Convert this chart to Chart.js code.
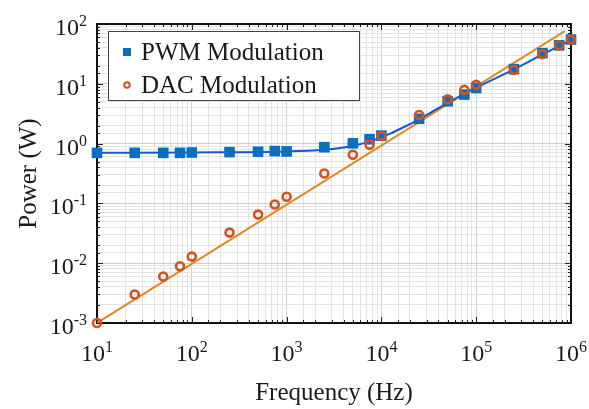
<!DOCTYPE html>
<html>
<head>
<meta charset="utf-8">
<script src="https://cdn.jsdelivr.net/npm/chart.js@4.4.1/dist/chart.umd.min.js"></script>
<style>
html, body { margin: 0; padding: 0; background: #fff; }
#wrap { width: 589px; height: 409px; }
</style>
</head>
<body>
<div id="wrap"><canvas id="chart" width="589" height="409"></canvas></div>
<script>
// measured points
const freqHz   = [10, 25, 50, 75, 100, 250, 500, 750, 1000, 2500, 5000, 7500, 10000, 25000, 50000, 75000, 100000, 250000, 500000, 750000, 1000000];
const pwmPower = [0.70, 0.70, 0.70, 0.70, 0.71, 0.72, 0.73, 0.75, 0.74, 0.87, 1.01, 1.18, 1.36, 2.6, 5.1, 6.6, 8.5, 17.6, 32.5, 44, 55];
const dacPower = [0.001, 0.003, 0.006, 0.0089, 0.0129, 0.0325, 0.065, 0.096, 0.129, 0.316, 0.65, 0.96, 1.34, 3.0, 5.5, 7.9, 9.6, 17, 31.4, 44, 55];

// fitted curves
const pwmFitFreq  = [10, 100, 1000, 2500, 4000, 6000, 8000, 12000, 18000, 25000, 50000, 100000, 250000, 500000, 1000000];
const pwmFitPower = [0.70, 0.71, 0.74, 0.79, 0.86, 0.98, 1.12, 1.44, 1.95, 2.55, 4.8, 8.6, 17.4, 31, 54];
const dacFitFreq  = [10, 860000];
const dacFitPower = [0.001, 76];

const xTickExp = [1, 2, 3, 4, 5, 6];
const yTickExp = [-3, -2, -1, 0, 1, 2];

const pwmColor = "#0b6fbf";
const dacColor = "#d4521c";
const pwmFitColor = "#1657d6";
const dacFitColor = "#e08a26";
const serif = '"Liberation Serif", "DejaVu Serif", serif';

const pts = (xs, ys) => xs.map((x, i) => ({ x: x, y: ys[i] }));
const isMajor = v => Math.abs(Math.log10(v) - Math.round(Math.log10(v))) < 1e-6;

function drawPow(ctx, exp, x, y, align) {
    ctx.font = "24px " + serif;
    const wb = ctx.measureText("10").width;
    ctx.font = "16px " + serif;
    const ws = ctx.measureText(String(exp)).width;
    const total = wb + ws;
    let left = align === "right" ? x - total : x - total / 2;
    ctx.textAlign = "left";
    ctx.textBaseline = "alphabetic";
    ctx.font = "24px " + serif;
    ctx.fillText("10", left, y);
    ctx.font = "16px " + serif;
    ctx.fillText(String(exp), left + wb, y - 9);
}

const decor = {
    id: "decor",
    beforeDatasetsDraw(chart) {
        const { ctx, chartArea: a, scales } = chart;
        ctx.save();
        // tick marks pointing in
        ctx.strokeStyle = "#222";
        ctx.lineWidth = 1;
        scales.x.ticks.forEach(t => {
            const px = Math.round(scales.x.getPixelForValue(t.value)) + 0.5;
            const len = isMajor(t.value) ? 6 : 3;
            ctx.beginPath();
            ctx.moveTo(px, a.bottom); ctx.lineTo(px, a.bottom - len);
            ctx.moveTo(px, a.top); ctx.lineTo(px, a.top + len);
            ctx.stroke();
        });
        scales.y.ticks.forEach(t => {
            const py = Math.round(scales.y.getPixelForValue(t.value)) + 0.5;
            const len = isMajor(t.value) ? 6 : 3;
            ctx.beginPath();
            ctx.moveTo(a.left, py); ctx.lineTo(a.left + len, py);
            ctx.moveTo(a.right, py); ctx.lineTo(a.right - len, py);
            ctx.stroke();
        });
        ctx.strokeStyle = "#111";
        ctx.lineWidth = 2;
        ctx.strokeRect(a.left, a.top, a.right - a.left, a.bottom - a.top);
        ctx.restore();
    },
    afterDraw(chart) {
        const { ctx, chartArea: a, scales } = chart;
        ctx.save();
        ctx.fillStyle = "#1a1a1a";
        xTickExp.forEach(e => drawPow(ctx, e, scales.x.getPixelForValue(Math.pow(10, e)), a.bottom + 38, "center"));
        yTickExp.forEach(e => drawPow(ctx, e, a.left - 10, scales.y.getPixelForValue(Math.pow(10, e)) + 11, "right"));

        // axis titles
        ctx.font = "25px " + serif;
        ctx.textAlign = "center";
        ctx.textBaseline = "alphabetic";
        ctx.fillText("Frequency (Hz)", (a.left + a.right) / 2, 400);
        ctx.save();
        ctx.translate(29, (a.top + a.bottom) / 2);
        ctx.rotate(-Math.PI / 2);
        ctx.textBaseline = "middle";
        ctx.fillText("Power (W)", 0, 0);
        ctx.restore();

        // legend box
        const lx = 108.5, ly = 31.5, lw = 251, lh = 69;
        ctx.fillStyle = "#fff";
        ctx.fillRect(lx, ly, lw, lh);
        ctx.strokeStyle = "#444";
        ctx.lineWidth = 1;
        ctx.strokeRect(lx, ly, lw, lh);
        ctx.fillStyle = pwmColor;
        ctx.fillRect(123, 48, 8, 8);
        ctx.strokeStyle = dacColor;
        ctx.lineWidth = 2;
        ctx.beginPath();
        ctx.arc(127, 85, 2.8, 0, Math.PI * 2);
        ctx.stroke();
        ctx.fillStyle = "#1a1a1a";
        ctx.font = "25px " + serif;
        ctx.textAlign = "left";
        ctx.textBaseline = "middle";
        ctx.fillText("PWM Modulation", 141, 53);
        ctx.fillText("DAC Modulation", 141, 86);
        ctx.restore();
    }
};

const gridColor = ctx => (ctx.tick && isMajor(ctx.tick.value)) ? "#cfcfcf" : "#e3e3e3";

new Chart(document.querySelector("#chart"), {
    type: "scatter",
    data: {
        datasets: [
            { label: "DAC Modulation", data: pts(freqHz, dacPower), order: 0, pointStyle: "circle", pointRadius: 4, pointBorderWidth: 2.6, borderColor: dacColor, backgroundColor: "rgba(0,0,0,0)", clip: false },
            { label: "PWM Modulation", data: pts(freqHz, pwmPower), order: 1, pointStyle: "rect", pointRadius: 7.5, borderWidth: 0, borderColor: pwmColor, backgroundColor: pwmColor, clip: false },
            { label: "PWM fit", data: pts(pwmFitFreq, pwmFitPower), order: 2, showLine: true, pointRadius: 0, borderColor: pwmFitColor, borderWidth: 2, cubicInterpolationMode: "monotone" },
            { label: "DAC fit", data: pts(dacFitFreq, dacFitPower), order: 3, showLine: true, pointRadius: 0, borderColor: dacFitColor, borderWidth: 2 }
        ]
    },
    options: {
        responsive: false,
        animation: false,
        layout: { padding: { left: 97, right: 18, top: 24, bottom: 86 } },
        plugins: { legend: { display: false }, tooltip: { enabled: false } },
        scales: {
            x: {
                type: "logarithmic", min: 10, max: 1000000,
                ticks: { display: false },
                grid: { color: gridColor, drawTicks: false },
                border: { display: false }
            },
            y: {
                type: "logarithmic", min: 0.001, max: 100,
                ticks: { display: false },
                grid: { color: gridColor, drawTicks: false },
                border: { display: false }
            }
        }
    },
    plugins: [decor]
});
</script>
</body>
</html>
